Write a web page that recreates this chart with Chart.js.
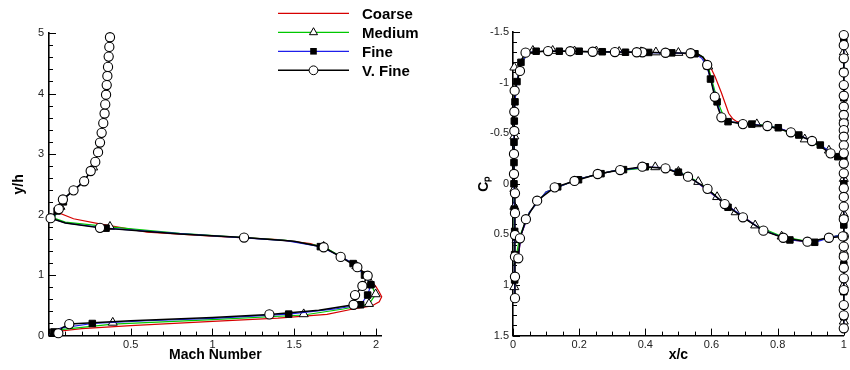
<!DOCTYPE html>
<html><head><meta charset="utf-8">
<script src="https://cdn.jsdelivr.net/npm/chart.js@4.4.1/dist/chart.umd.min.js"></script>
<style>
html,body{margin:0;padding:0;background:#fff;width:850px;height:370px;overflow:hidden}
body{position:relative}
#c1{position:absolute;left:0;top:0}
#c2{position:absolute;left:440px;top:0}
#legend{position:absolute;left:0;top:0}
</style></head><body>
<canvas id="c1" width="425" height="370"></canvas>
<canvas id="c2" width="410" height="370"></canvas>
<svg id="legend" width="480" height="82" xmlns="http://www.w3.org/2000/svg"></svg>
<script>
// ---------------- names / ticks ----------------
const seriesNames = ['Coarse', 'Medium', 'Fine', 'V. Fine'];
const machTickVals = [0.5, 1, 1.5, 2];
const yhTickVals = [0, 1, 2, 3, 4, 5];
const xcTickVals = [0, 0.2, 0.4, 0.6, 0.8, 1];
const cpTickVals = [-1.5, -1, -0.5, 0, 0.5, 1, 1.5];

// ---------------- left plot: [Mach, y/h] ----------------
const machOuterCommon = [[0.06,2.09],[0.085,2.25],[0.15,2.40],[0.215,2.55],[0.255,2.72],[0.283,2.87],[0.30,3.03],[0.312,3.19],[0.322,3.35],[0.332,3.51],[0.34,3.67],[0.344,3.82],[0.349,3.98],[0.353,4.14],[0.357,4.29],[0.361,4.44],[0.365,4.61],[0.369,4.77],[0.373,4.93]];
const machCoarse = [[0,0],[0.02,0.06],[0.2,0.115],[0.5,0.165],[1.0,0.235],[1.4,0.29],[1.7,0.35],[1.86,0.44],[1.974,0.49],[2.02,0.56],[2.035,0.64],[2.02,0.72],[2.0,0.81],[1.943,1.0],[1.9,1.1],[1.81,1.27],[1.7,1.43],[1.6,1.52],[1.4,1.585],[1.0,1.645],[0.6,1.71],[0.31,1.845],[0.15,1.93],[0.067,2.02]];
const machMedium = [[0,0],[0.02,0.05],[0.07,0.1],[0.39,0.19],[1.0,0.265],[1.558,0.34],[1.8,0.44],[1.957,0.52],[1.998,0.68],[1.97,0.85],[1.92,1.03],[1.88,1.15],[1.79,1.3],[1.68,1.47],[1.45,1.575],[0.8,1.69],[0.373,1.795],[0.1,1.875],[0.03,1.94]];
const machMediumMarks = [[0.39,0.215],[1.558,0.355],[1.957,0.525],[1.998,0.685],[1.97,0.85],[1.88,1.15],[1.68,1.47],[0.373,1.80],[0.07,2.13],[0.27,2.78]];
const machFine = [[0,0],[0.03,0.06],[0.07,0.125],[0.265,0.2],[0.6,0.245],[1.0,0.285],[1.466,0.355],[1.75,0.44],[1.906,0.51],[1.949,0.67],[1.969,0.84],[1.93,1.0],[1.86,1.19],[1.76,1.34],[1.66,1.47],[1.45,1.57],[0.8,1.685],[0.349,1.775],[0.1,1.86],[0.02,1.93]];
const machFineMarks = [[0.03,0.06],[0.265,0.2],[1.466,0.355],[1.906,0.51],[1.949,0.67],[1.969,0.84],[1.93,1.0],[1.86,1.19],[1.66,1.47],[0.349,1.775],[0.05,2.06],[0.088,2.21]];
const machVFine = [[0,0],[0.057,0.04],[0.08,0.13],[0.124,0.19],[0.5,0.245],[1.0,0.3],[1.348,0.35],[1.65,0.42],[1.863,0.51],[1.872,0.67],[1.917,0.82],[1.949,0.99],[1.886,1.13],[1.784,1.30],[1.68,1.46],[1.5,1.56],[1.193,1.62],[0.8,1.68],[0.312,1.78],[0.1,1.86],[0.01,1.94]];
const machVFineMarks = [[0.057,0.04],[0.124,0.19],[1.348,0.35],[1.863,0.51],[1.872,0.67],[1.917,0.82],[1.949,0.99],[1.886,1.13],[1.784,1.30],[1.68,1.46],[1.193,1.62],[0.312,1.78],[0.01,1.94]];

// ---------------- right plot: [x/c, Cp] (null = break) ----------------
const cpCoarse = [[1,-1.45],[1,1.43],null,
 [1,-0.24],[0.982,-0.27],[0.9,-0.43],[0.8,-0.555],[0.72,-0.59],[0.677,-0.614],[0.665,-0.64],[0.652,-0.697],[0.63,-0.9],[0.611,-1.058],[0.59,-1.2],[0.571,-1.256],[0.55,-1.28],[0.5,-1.292],[0.3,-1.303],[0.1,-1.312],[0.05,-1.3],[0.024,-1.2],[0.005,-0.9],[0.003,-0.3],[0.003,0.3],[0.005,0.9],[0.005,1.13],null,
 [0.003,0.8],[0.016,0.72],[0.025,0.5],[0.05,0.28],[0.1,0.08],[0.2,-0.05],[0.3,-0.125],[0.4,-0.165],[0.45,-0.16],[0.5,-0.115],[0.55,-0.03],[0.65,0.22],[0.75,0.45],[0.837,0.555],[0.9,0.575],[0.96,0.53],[1,0.5]];
const cpMedium = [[1,-1.45],[1,1.43],null,
 [1,-0.24],[0.982,-0.268],[0.955,-0.33],[0.882,-0.44],[0.8,-0.555],[0.737,-0.59],[0.66,-0.61],[0.64,-0.64],[0.62,-0.8],[0.605,-0.98],[0.59,-1.16],[0.575,-1.25],[0.56,-1.28],[0.5,-1.292],[0.3,-1.303],[0.1,-1.312],[0.05,-1.3],[0.024,-1.2],[0.005,-0.9],[0.003,-0.3],[0.003,0.3],[0.005,0.9],[0.005,1.13],null,
 [0.003,0.8],[0.011,0.7],[0.02,0.52],[0.05,0.28],[0.1,0.08],[0.2,-0.05],[0.3,-0.125],[0.43,-0.165],[0.5,-0.12],[0.56,-0.02],[0.617,0.13],[0.673,0.28],[0.732,0.41],[0.812,0.52],[0.9,0.575],[0.96,0.53],[1,0.5]];
const cpMediumMarks = [[0.06,-1.315],[0.12,-1.315],[0.186,-1.31],[0.252,-1.31],[0.321,-1.305],[0.387,-1.302],[0.432,-1.3],[0.5,-1.295],[0.59,-1.16],[0.737,-0.59],[0.882,-0.44],[0.955,-0.33],
 [0.004,-1.15],[0.004,-0.47],[0.004,0.05],[0.004,0.226],[0.011,0.555],[0.004,1.02],
 [0.43,-0.165],[0.5,-0.12],[0.56,-0.02],[0.617,0.13],[0.673,0.28],[0.732,0.41],[0.812,0.52],
 [1,-1.3],[1,-0.65],[1,-0.05],[1,0.3],[1,0.67],[1,1.0],[1,1.36]];
const cpFine = [[1,-1.45],[1,1.43],null,
 [1,-0.25],[0.982,-0.268],[0.929,-0.383],[0.864,-0.482],[0.802,-0.554],[0.722,-0.59],[0.65,-0.614],[0.63,-0.66],[0.617,-0.81],[0.597,-1.035],[0.585,-1.17],[0.571,-1.24],[0.55,-1.285],[0.5,-1.292],[0.3,-1.303],[0.1,-1.312],[0.05,-1.3],[0.024,-1.2],[0.012,-1.01],[0.006,-0.81],[0.004,-0.62],[0.003,-0.41],[0.003,-0.21],[0.003,0.0],[0.004,0.25],[0.005,0.47],[0.005,0.7],[0.005,0.95],[0.005,1.15],null,
 [0.003,0.8],[0.016,0.72],[0.025,0.5],[0.05,0.28],[0.1,0.08],[0.2,-0.05],[0.3,-0.125],[0.4,-0.165],[0.45,-0.16],[0.5,-0.115],[0.55,-0.03],[0.65,0.22],[0.75,0.45],[0.837,0.555],[0.912,0.578],[0.96,0.53],[1,0.5]];
const cpFineMarks = [[0.024,-1.2],[0.012,-1.01],[0.006,-0.81],[0.004,-0.62],[0.003,-0.41],[0.003,-0.21],[0.003,0.0],[0.004,0.25],[0.005,0.47],[0.005,0.7],[0.005,0.95],
 [0.07,-1.31],[0.14,-1.31],[0.2,-1.31],[0.27,-1.305],[0.34,-1.3],[0.41,-1.298],[0.48,-1.294],[0.55,-1.285],[0.597,-1.035],[0.617,-0.81],[0.65,-0.614],[0.722,-0.59],[0.802,-0.554],[0.864,-0.482],[0.929,-0.383],[0.982,-0.268],
 [0.135,0.03],[0.198,-0.04],[0.266,-0.1],[0.334,-0.14],[0.4,-0.168],[0.5,-0.115],[0.65,0.232],[0.837,0.555],[0.912,0.578],
 [1,-1.4],[1,-1.108],[1,-0.85],[1,-0.548],[1,-0.25],[1,0.0],[1,0.407],[1,0.8],[1,1.066],[1,1.313]];
const cpVFine = [[1,-1.47],[1,-1.37],[1,-1.24],[1,-1.1],[1,-0.976],[1,-0.87],[1,-0.762],[1,-0.68],[1,-0.598],[1,-0.53],[1,-0.465],[1,-0.38],[1,-0.301],[1,-0.2],[1,-0.104],[1,0.045],[1,0.13],[1,0.226],[1,0.35],[1,0.52],[1,0.62],[1,0.72],[1,0.83],[1,0.934],[1,1.05],[1,1.198],[1,1.3],[1,1.428],null,
 [1,-0.24],[0.96,-0.301],[0.904,-0.423],[0.84,-0.509],[0.769,-0.571],[0.695,-0.59],[0.66,-0.61],[0.63,-0.657],[0.62,-0.75],[0.61,-0.86],[0.6,-1.0],[0.587,-1.174],[0.575,-1.25],[0.56,-1.28],[0.537,-1.29],[0.461,-1.295],[0.391,-1.3],[0.374,-1.3],[0.308,-1.302],[0.241,-1.305],[0.173,-1.31],[0.106,-1.312],[0.038,-1.296],[0.025,-1.22],[0.021,-1.115],[0.005,-0.92],[0.004,-0.712],[0.004,-0.522],[0.003,-0.295],[0.003,-0.097],[0.006,0.094],[0.006,0.29],[0.006,0.506],[0.006,0.72],[0.006,0.918],[0.006,1.13],null,
 [0.003,0.8],[0.016,0.736],[0.021,0.539],[0.039,0.35],[0.073,0.167],[0.126,0.035],[0.186,-0.028],[0.256,-0.097],[0.324,-0.136],[0.391,-0.169],[0.461,-0.153],[0.529,-0.07],[0.588,0.05],[0.64,0.2],[0.695,0.331],[0.757,0.463],[0.817,0.533],[0.89,0.572],[0.955,0.533],[0.997,0.52]];
const cpVFineMarks = [[1,-1.47],[1,-1.37],[1,-1.24],[1,-1.1],[1,-0.976],[1,-0.87],[1,-0.762],[1,-0.68],[1,-0.598],[1,-0.53],[1,-0.465],[1,-0.38],[1,-0.301],[1,-0.2],[1,-0.104],[1,0.045],[1,0.13],[1,0.226],[1,0.35],[1,0.52],[1,0.62],[1,0.72],[1,0.83],[1,0.934],[1,1.05],[1,1.198],[1,1.3],[1,1.428],
 [0.96,-0.301],[0.904,-0.423],[0.84,-0.509],[0.769,-0.571],[0.695,-0.59],[0.63,-0.657],[0.61,-0.86],[0.587,-1.174],[0.537,-1.29],[0.461,-1.295],[0.391,-1.3],[0.374,-1.3],[0.308,-1.302],[0.241,-1.305],[0.173,-1.31],[0.106,-1.312],[0.038,-1.296],
 [0.021,-1.115],[0.005,-0.92],[0.004,-0.712],[0.004,-0.522],[0.003,-0.295],[0.003,-0.097],[0.006,0.094],[0.006,0.29],[0.006,0.506],[0.006,0.72],[0.006,0.918],[0.006,1.13],
 [0.016,0.736],[0.021,0.539],[0.039,0.35],[0.073,0.167],[0.126,0.035],[0.186,-0.028],[0.256,-0.097],[0.324,-0.136],[0.391,-0.169],[0.461,-0.153],[0.529,-0.07],[0.588,0.05],[0.64,0.2],[0.695,0.331],[0.757,0.463],[0.817,0.533],[0.89,0.572],[0.955,0.533],[0.997,0.52]];

// ---------------- styles ----------------
const FONT = "'Liberation Sans', Arial, sans-serif";
const COL = {coarse:'rgb(215,0,0)', medium:'rgb(0,200,0)', fine:'rgb(30,30,235)', vfine:'#000'};

function pts(arr){ return arr.map(p => p ? {x:p[0], y:p[1]} : {x:null, y:null}); }
function lineDs(arr, color, order, w){
  return {data:pts(arr), showLine:true, borderColor:color, borderWidth:w||1.2, pointRadius:0, pointHoverRadius:0, spanGaps:false, tension:0, order, clip:false, fill:false};
}
function markDs(arr, style, order){
  const base = {data:pts(arr), showLine:false, order, clip:false, pointHoverRadius:0};
  if (style==='triangle') return Object.assign(base,{pointStyle:'triangle', pointRadius:5.2, pointBackgroundColor:'#fff', pointBorderColor:'#000', pointBorderWidth:1});
  if (style==='rect') return Object.assign(base,{pointStyle:'rect', pointRadius:4.6, pointBackgroundColor:'#000', pointBorderColor:'#000', pointBorderWidth:1});
  return Object.assign(base,{pointStyle:'circle', pointRadius:4.6, pointBackgroundColor:'#fff', pointBorderColor:'#000', pointBorderWidth:1.1});
}

const tickMarks = {
  id:'tickMarks',
  beforeDatasetsDraw(chart, args, opts){
    const {ctx, chartArea:{left, bottom}} = chart;
    ctx.save(); ctx.strokeStyle='#000'; ctx.lineWidth=1;
    for (const id of Object.keys(opts.axes||{})) {
      const s = opts.axes[id], sc = chart.scales[id];
      const n = Math.round((s.to - s.from)/s.minor);
      for (let i=0;i<=n;i++){
        const v = s.from + i*s.minor;
        const r = v/s.major;
        const major = Math.abs(r-Math.round(r))<1e-6;
        const len = major ? 7 : 4;
        const p = Math.round(sc.getPixelForValue(v)) + 0.5;
        ctx.beginPath();
        if (sc.isHorizontal()) { ctx.moveTo(p, bottom); ctx.lineTo(p, bottom-len); }
        else { ctx.moveTo(left, p); ctx.lineTo(left+len, p); }
        ctx.stroke();
      }
    }
    ctx.restore();
  }
};

function axis(opts){
  return {
    type:'linear', min:opts.min, max:opts.max, reverse:!!opts.reverse,
    grid:{display:false, drawTicks:false},
    border:{display:true, color:'#000', width:1.6},
    ticks:{color:'#222', font:{family:FONT, size:11}, padding:opts.tpad, autoSkip:false, maxRotation:0,
      callback:(v)=>String(v), includeBounds:false},
    title:{display:true, text:opts.title, color:'#000', font:{family:FONT, size:14, weight:'bold'}, padding:opts.titlePad},
    afterBuildTicks:(sc)=>{ sc.ticks = opts.vals.map(v=>({value:v})); },
    afterFit:(sc)=>{ if (opts.w!==undefined) sc.width = opts.w; if (opts.h!==undefined) sc.height = opts.h; }
  };
}

function baseOptions(pad, scales, tickAxes){
  return {
    responsive:false, animation:false, events:[],
    layout:{padding:pad},
    plugins:{legend:{display:false}, tooltip:{enabled:false}, tickMarks:{axes:tickAxes}},
    scales
  };
}

// left chart
new Chart(document.getElementById('c1'), {
  type:'scatter',
  data:{datasets:[
    lineDs(machCoarse.concat(machOuterCommon), COL.coarse, 7),
    lineDs(machMedium.concat(machOuterCommon), COL.medium, 6),
    markDs(machMediumMarks, 'triangle', 5),
    lineDs(machFine.concat(machOuterCommon), COL.fine, 4),
    markDs(machFineMarks, 'rect', 3),
    lineDs(machVFine.concat(machOuterCommon), COL.vfine, 2, 1.5),
    markDs(machVFineMarks.concat(machOuterCommon), 'circle', 1)
  ]},
  options: baseOptions({top:33, right:43.3, left:0, bottom:0}, {
    x: Object.assign(axis({min:0, max:2.035, vals:machTickVals, title:'Mach Number', tpad:3, titlePad:{top:0,bottom:6.6}, h:34.4}), {position:'bottom'}),
    y: Object.assign(axis({min:0, max:5, vals:yhTickVals, title:'y/h', tpad:5, titlePad:{top:10.6,bottom:0}, w:49}), {position:'left'})
  }, {x:{from:0,to:2,minor:0.1,major:0.5}, y:{from:0,to:5,minor:0.2,major:1}}),
  plugins:[tickMarks]
});

// right chart
new Chart(document.getElementById('c2'), {
  type:'scatter',
  data:{datasets:[
    lineDs(cpCoarse, COL.coarse, 7),
    lineDs(cpMedium, COL.medium, 6),
    markDs(cpMediumMarks, 'triangle', 5),
    lineDs(cpFine, COL.fine, 4),
    markDs(cpFineMarks, 'rect', 3),
    lineDs(cpVFine, COL.vfine, 2, 1.5),
    markDs(cpVFineMarks, 'circle', 1)
  ]},
  options: baseOptions({top:32, right:4, left:0, bottom:0}, {
    x: Object.assign(axis({min:0, max:1, vals:xcTickVals, title:'x/c', tpad:3, titlePad:{top:0,bottom:6.6}, h:34.4}), {position:'bottom'}),
    y: Object.assign(axis({min:-1.5, max:1.5, reverse:true, vals:cpTickVals, title:'C\u209A', tpad:4, titlePad:{top:35.6,bottom:0}, w:73}), {position:'left'})
  }, {x:{from:0,to:1,minor:0.05,major:0.2}, y:{from:-1.5,to:1.5,minor:0.1,major:0.5}}),
  plugins:[tickMarks]
});

// legend (SVG with real text)
(function(){
  const svg = document.getElementById('legend');
  const NS = 'http://www.w3.org/2000/svg';
  const rows = [13.3, 32.3, 51.3, 70.3];
  const cols = [COL.coarse, COL.medium, COL.fine, COL.vfine];
  const syms = ['none','triangle','rect','circle'];
  function el(t, a){ const e = document.createElementNS(NS, t); for (const k in a) e.setAttribute(k, a[k]); svg.appendChild(e); return e; }
  seriesNames.forEach((name, i) => {
    const y = rows[i], cx = 313.5;
    el('line', {x1:278, x2:349, y1:y, y2:y, stroke:cols[i], 'stroke-width': i===3?1.4:1.2});
    if (syms[i]==='triangle') el('polygon', {points:`${cx},${y-4.6} ${cx-4},${y+2.4} ${cx+4},${y+2.4}`, fill:'#fff', stroke:'#000', 'stroke-width':1});
    if (syms[i]==='rect') el('rect', {x:cx-3.3, y:y-3.3, width:6.6, height:6.6, fill:'#000'});
    if (syms[i]==='circle') el('circle', {cx:cx, cy:y, r:4.4, fill:'#fff', stroke:'#000', 'stroke-width':1});
    const t = el('text', {x:362, y:y+5.3, 'font-family':"Liberation Sans, Arial, sans-serif", 'font-size':15, 'font-weight':'bold', fill:'#000'});
    t.textContent = name;
  });
})();
</script>
</body></html>
